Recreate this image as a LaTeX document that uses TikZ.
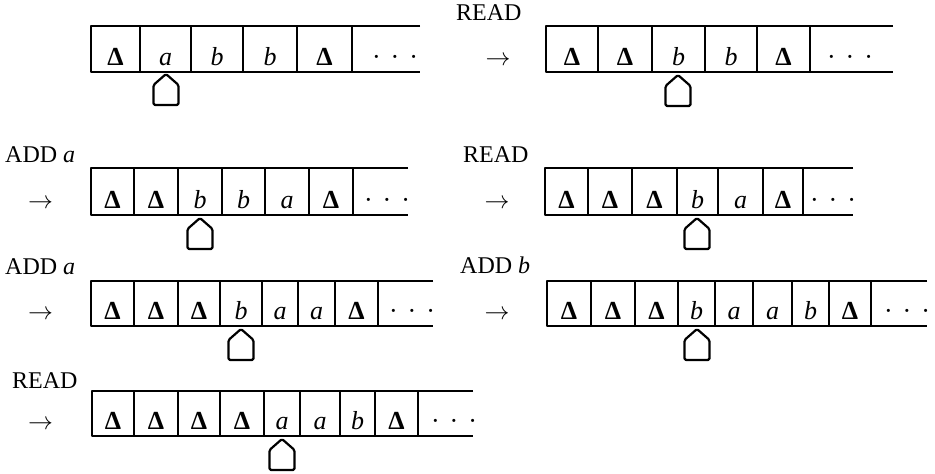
\documentclass[tikz,border=0pt]{standalone}
\usepackage{fontspec}
\setmainfont{Liberation Serif}
\newcommand\Dl{\textbf{Δ}}
\newcommand\ita{\textit{a}}
\newcommand\itb{\textit{b}}
\tikzset{
  tapeline/.style={line width=2.8pt, line join=round},
  divline/.style={line width=2.1pt},
  headshape/.style={line width=2.2pt, rounded corners=1.5pt, line join=round},
  celltext/.style={anchor=base, inner sep=0pt, font=\fontsize{26}{30}\selectfont},
  lbl/.style={anchor=base west, inner sep=0pt, font=\fontsize{24}{28}\selectfont},
  arr/.style={anchor=base, inner sep=0pt, font=\fontsize{24}{28}\selectfont},
}
% #1 name, #2 top, #3 bottom, #4 left, #5 cells (right edge/content), #6 right end, #7 dots centre
\newcommand\drawtape[7]{%
  \draw[tapeline] (#6,#2) -- (#4,#2) -- (#4,#3) -- (#6,#3);
  \foreach \xr/\txt [count=\i, remember=\xr as \xl (initially #4)] in {#5} {
    \draw[divline] (\xr,#2) -- (\xr,#3);
    \node[celltext] (#1c\i) at ({(\xl+\xr)/2},#3-7) {\txt};
  }
  \node[celltext] (#1dots) at (#7,#3-7) {·\hspace{10pt}·\hspace{10pt}·};
}
% #1 centre x, #2 apex y
\newcommand\drawhead[2]{%
  \draw[headshape] (#1,#2) -- ++(12.5,11) -- ++(0,20) -- ++(-25,0) -- ++(0,-20) -- cycle;
}
\begin{document}
\begin{tikzpicture}[x=1pt,y=-1pt]
\useasboundingbox (0,0) rectangle (935,474);

% Row 1
\drawtape{ta}{26}{72}{91}{140/\Dl, 191/\ita, 243/\itb, 297/\itb, 352/\Dl}{420}{395}
\drawhead{166}{74}
\node[lbl] (l1) at (456,20) {READ};
\node[arr] (a1) at (498,65) {$\rightarrow$};
\drawtape{tb}{26}{72}{546}{598/\Dl, 652/\Dl, 705/\itb, 757/\itb, 810/\Dl}{893}{850}
\drawhead{678}{75}

% Row 2
\node[lbl] (l2) at (5,162) {ADD \textit{a}};
\node[arr] (a2) at (40.5,208) {$\rightarrow$};
\drawtape{tc}{168}{215}{91}{134/\Dl, 178/\Dl, 222/\itb, 265/\itb, 309/\ita, 353/\Dl}{408}{387}
\drawhead{200}{218}
\node[lbl] (l3) at (463,162) {READ};
\node[arr] (a3) at (497,208) {$\rightarrow$};
\drawtape{td}{168}{215}{545}{588/\Dl, 632/\Dl, 677/\Dl, 718/\itb, 763/\ita, 803/\Dl}{853}{833}
\drawhead{697}{218}

% Row 3
\node[lbl] (l4) at (5,274) {ADD \textit{a}};
\node[arr] (a4) at (40.5,319) {$\rightarrow$};
\drawtape{te}{281}{326}{91}{134/\Dl, 178/\Dl, 220/\Dl, 262/\itb, 298/\ita, 335/\ita, 378/\Dl}{433}{412}
\drawhead{241}{329}
\node[lbl] (l5) at (460,273) {ADD \textit{b}};
\node[arr] (a5) at (497,319) {$\rightarrow$};
\drawtape{tf}{281}{326}{547}{591/\Dl, 635/\Dl, 678/\Dl, 715/\itb, 753/\ita, 792/\ita, 829/\itb, 871/\Dl}{927}{907}
\drawhead{697}{329}

% Row 4
\node[lbl] (l6) at (12,388) {READ};
\node[arr] (a6) at (40.5,429) {$\rightarrow$};
\drawtape{tg}{391}{436}{92}{134/\Dl, 178/\Dl, 220/\Dl, 264/\Dl, 300/\ita, 340/\ita, 375/\itb, 418/\Dl}{473}{454}
\drawhead{282}{439}
\end{tikzpicture}
\end{document}
